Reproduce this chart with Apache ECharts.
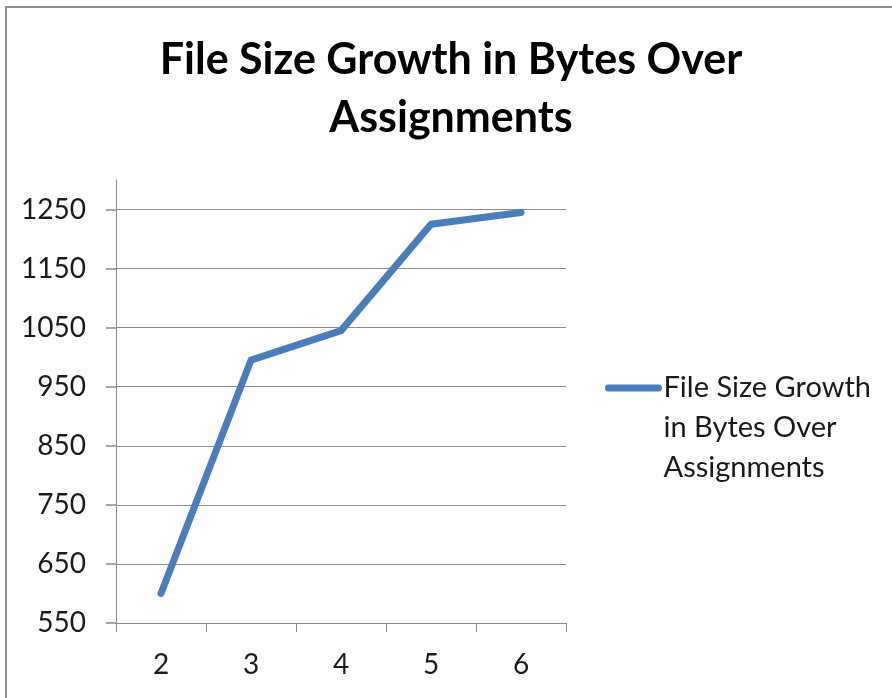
<!DOCTYPE html>
<html>
<head>
<meta charset="utf-8">
<script src="https://cdn.jsdelivr.net/npm/echarts@6/dist/echarts.min.js"></script>
<style>
  html, body { margin: 0; padding: 0; background: #ffffff; }
  #chart { position: absolute; left: 0; top: 0; width: 892px; height: 698px; }
  #frame { position: absolute; left: 5px; top: 6px; width: 900px; height: 700px;
           border-left: 2px solid #8e8e8e; border-top: 2px solid #8e8e8e; pointer-events: none; }
</style>
</head>
<body>
<div id="chart"></div>
<div id="frame"></div>
<script>
// Assignment numbers along the x axis
const assignments = ['2', '3', '4', '5', '6'];
// File size in bytes after each assignment
const fileSizes = [600, 995, 1045, 1225, 1245];
// Value axis range and step
const yMin = 550;
const yMax = 1300;
const yStep = 100;
const seriesName = 'File Size Growth in Bytes Over Assignments';
const titleText = 'File Size Growth in Bytes Over\nAssignments';
// two blank lines first so the icon sits beside the first text line
const legendText = '\n\nFile Size Growth\nin Bytes Over\nAssignments';

const FONT = 'Lato, "Open Sans", sans-serif';
const GRID_COLOR = '#8a8a8a';
const LINE_COLOR = '#4a7ebb';

const chart = echarts.init(document.getElementById('chart'), null, { renderer: 'canvas' });
chart.setOption({
  animation: false,
  backgroundColor: '#ffffff',
  title: {
    text: titleText,
    left: 446,
    textAlign: 'center',
    top: 26,
    textStyle: {
      fontFamily: FONT,
      fontWeight: 'bold',
      fontSize: 43,
      lineHeight: 58,
      color: '#000000'
    }
  },
  grid: { left: 116, right: 326, top: 180, bottom: 75, containLabel: false },
  legend: {
    orient: 'vertical',
    left: 605,
    top: 288,
    padding: 0,
    itemWidth: 50,
    itemHeight: 7,
    data: [seriesName],
    formatter: function () { return legendText; },
    lineStyle: { width: 7, cap: 'round', color: LINE_COLOR },
    textStyle: {
      fontFamily: FONT,
      fontSize: 29,
      lineHeight: 40,
      color: '#1a1a1a'
    }
  },
  xAxis: {
    type: 'category',
    data: assignments,
    boundaryGap: true,
    axisLine: { show: true, lineStyle: { color: GRID_COLOR, width: 1 } },
    axisTick: { show: true, length: 9, inside: false, lineStyle: { color: GRID_COLOR } },
    axisLabel: { fontFamily: FONT, fontSize: 28, color: '#1a1a1a', margin: 28 },
    splitLine: { show: false }
  },
  yAxis: {
    type: 'value',
    position: 'left',
    min: yMin,
    max: yMax,
    interval: yStep,
    axisLine: { show: true, lineStyle: { color: GRID_COLOR, width: 1 } },
    axisTick: { show: true, length: 10, inside: false, lineStyle: { color: GRID_COLOR, width: 1.5 } },
    axisLabel: {
      fontFamily: FONT, fontSize: 28, color: '#1a1a1a', margin: 30,
      showMaxLabel: false,
      formatter: function (v) { return String(v); }
    },
    splitLine: { show: true, showMaxLine: false, lineStyle: { color: GRID_COLOR, width: 1 } }
  },
  series: [{
    name: seriesName,
    type: 'line',
    data: fileSizes,
    showSymbol: false,
    symbol: 'none',
    smooth: false,
    lineStyle: { width: 7, color: LINE_COLOR, cap: 'round', join: 'round' },
    itemStyle: { color: LINE_COLOR }
  }]
});
</script>
</body>
</html>
